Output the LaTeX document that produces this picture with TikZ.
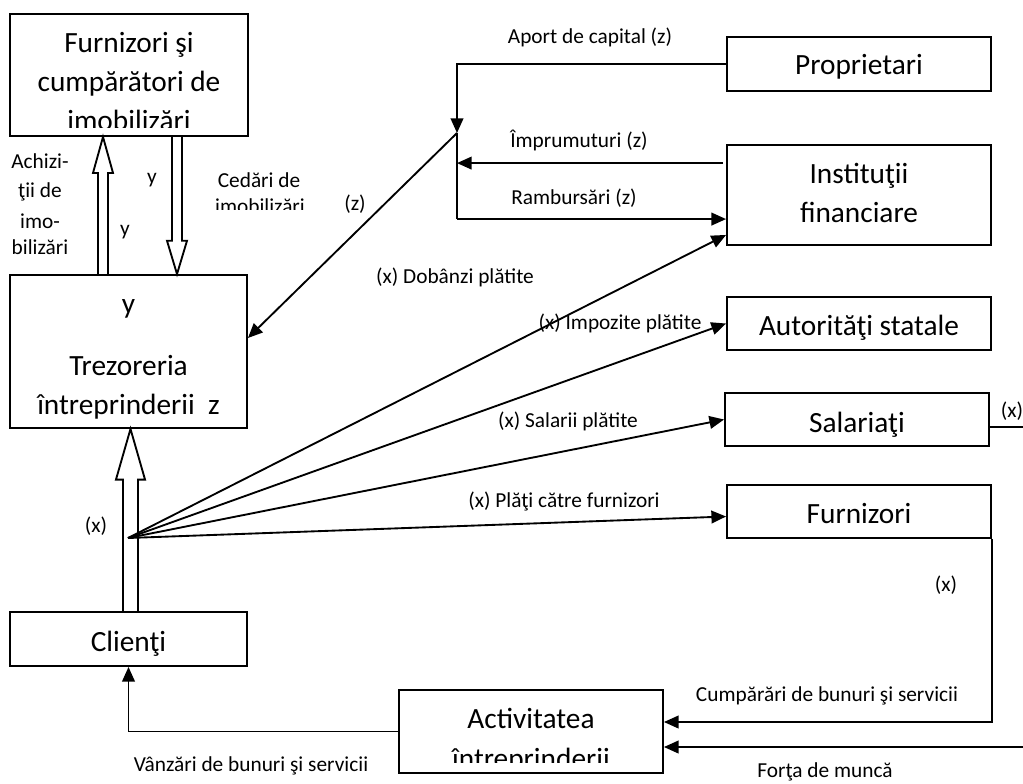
\documentclass[tikz,border=0pt]{standalone}
\usepackage{fontspec}
\setmainfont{Carlito}
\usetikzlibrary{arrows.meta,calc,fit}

% wide hollow arrow: tail, tip, shaft half-width, head half-width, signed head length
\newcommand\fatarrow[5]{%
  \draw[hollow] let \p1=(#1), \p2=(#2) in
    ({\x1-#3},\y1) -- ({\x1-#3},{\y2+(#5)}) -- ({\x1-#4},{\y2+(#5)}) -- (\x1,\y2)
    -- ({\x1+#4},{\y2+(#5)}) -- ({\x1+#3},{\y2+(#5)}) -- ({\x1+#3},\y1);}

\begin{document}
\begin{tikzpicture}[x=0.75pt,y=-0.75pt,
  box/.style={draw, line width=1.4pt, inner sep=0pt},
  boxtext/.style={anchor=base, inner sep=0pt, font=\fontsize{22}{26}\selectfont},
  lbl/.style={anchor=base, inner sep=0pt, font=\fontsize{16}{19}\selectfont},
  flow/.style={line width=1.4pt, -{Triangle[length=11pt,width=9.5pt]}},
  plainline/.style={line width=1.4pt},
  hollow/.style={line width=1.4pt, line join=miter}]

\useasboundingbox (0,0) rectangle (1023,783);

% boxes
\node[box, fit={(10,14) (248,136)}]  (fur) {};
\node[box, fit={(10,275) (247,428)}] (tre) {};
\node[box, fit={(10,612) (247,666)}] (cli) {};
\node[box, fit={(399,690) (663,773)}] (act) {};
\node[box, fit={(727,37) (991,91)}]   (pro) {};
\node[box, fit={(727,145) (991,245)}] (ins) {};
\node[box, fit={(727,297) (991,350)}] (aut) {};
\node[box, fit={(725,393) (989,446)}] (sal) {};
\node[box, fit={(727,485) (991,538)}] (frn) {};

% box texts
\node[boxtext] (fur1) at (129,52) {Furnizori şi};
\node[boxtext] (fur2) at (129,91) {cumpărători de};
\begin{scope}
  \clip (fur.north west) rectangle ($(fur.south east)+(0,-9)$);
  \node[boxtext] (fur3) at (129,130) {imobilizări};
\end{scope}
\node[boxtext] (tre1) at (128.5,313) {y};
\node[boxtext] (tre2) at (128.5,375) {Trezoreria};
\node[boxtext] (tre3) at (128.5,414) {întreprinderii\ \ z};
\node[boxtext] (cli1) at (128.5,651) {Clienţi};
\node[boxtext] (act1) at (531,728) {Activitatea};
\begin{scope}
  \clip (act.north west) rectangle ($(act.south east)+(0,-11)$);
  \node[boxtext] (act2) at (531,768) {întreprinderii};
\end{scope}
\node[boxtext] (pro1) at (859,74) {Proprietari};
\node[boxtext] (ins1) at (859,183) {Instituţii};
\node[boxtext] (ins2) at (859,222) {financiare};
\node[boxtext] (aut1) at (859,335) {Autorităţi statale};
\node[boxtext] (sal1) at (857,432) {Salariaţi};
\node[boxtext] (frn1) at (859,523) {Furnizori};

% wide flows between the treasury and its neighbours
\fatarrow{$(tre.north)+(-25.5,0)$}{fur.south}{3.75pt}{7.5pt}{-27pt}
\fatarrow{$(fur.south)+(48,0)$}{tre.north}{3.75pt}{7.5pt}{25pt}
\fatarrow{$(cli.north)+(2,0)$}{tre.south}{5.6pt}{10.9pt}{-38pt}

% financing flows
\coordinate (zj) at (457,133);
\coordinate (impS) at ($(ins.north west)+(-3,19)$);
\coordinate (ramb) at ($(ins.north west)+(0,75)$);
\draw[flow] (pro.west) -| (zj);
\draw[flow] (impS) -- (zj |- impS);
\draw[plainline] (zj) -- (zj |- ramb);
\draw[flow] (zj |- ramb) -- (ramb);
\draw[flow] (zj) -- ($(tre.east)+(0,-13.5)$);

% payments fanning out of the treasury
\coordinate (fan) at (128,538);
\coordinate (insA) at ($(ins.south west)+(0,-11)$);
\coordinate (frnA) at ($(frn.west)+(0,5)$);
\draw[flow] (fan) -- (insA);
\draw[flow] (fan) -- (aut.west);
\draw[flow] (fan) -- (sal.west);
\draw[flow] (fan) -- (frnA);

% operating cycle
\coordinate (actA) at ($(act.east)+(0,-9.5)$);
\coordinate (fm) at (1023,747);
\coordinate (salx) at (1023,427);
\draw[flow] (frn.south east) |- (actA);
\draw[flow] (fm) -- (act.east |- fm);
\draw[plainline] (sal.east |- salx) -- (salx);
\draw[flow] (act.west) -| (cli.south);

% labels
\node[lbl] (l1) at (590,43) {Aport de capital (z)};
\node[lbl] (l2) at (579,147) {Împrumuturi (z)};
\node[lbl] (l3) at (574,204) {Rambursări (z)};
\node[lbl] (l4) at (355,210) {(z)};
\node[lbl] (l5) at (455,283) {(x) Dobânzi plătite};
\node[lbl] (l6) at (620,329) {(x) Impozite plătite};
\node[lbl] (l7) at (568,427) {(x) Salarii plătite};
\node[lbl] (l8) at (564,507) {(x) Plăţi către furnizori};
\node[lbl] (l9) at (96,532) {(x)};
\node[lbl] (l10) at (1012,417) {(x)};
\node[lbl] (l11) at (946,591) {(x)};
\node[lbl] (l12) at (827,701) {Cumpărări de bunuri şi servicii};
\node[lbl] (l13) at (825,777) {Forţa de muncă};
\node[lbl] (l14) at (251,771) {Vânzări de bunuri şi servicii};
\node[lbl] (y1) at (152,183) {y};
\node[lbl] (y2) at (125,235) {y};
\node[lbl] (a1) at (40,168) {Achizi-};
\node[lbl] (a2) at (40,197) {ţii de};
\node[lbl] (a3) at (40,228) {imo-};
\node[lbl] (a4) at (40,254) {bilizări};
\node[lbl] (c1) at (259,187) {Cedări de};
\begin{scope}
  \clip (200,150) rectangle (330,209);
  \node[lbl] (c2) at (260,213) {imobilizări};
\end{scope}
\end{tikzpicture}
\end{document}
